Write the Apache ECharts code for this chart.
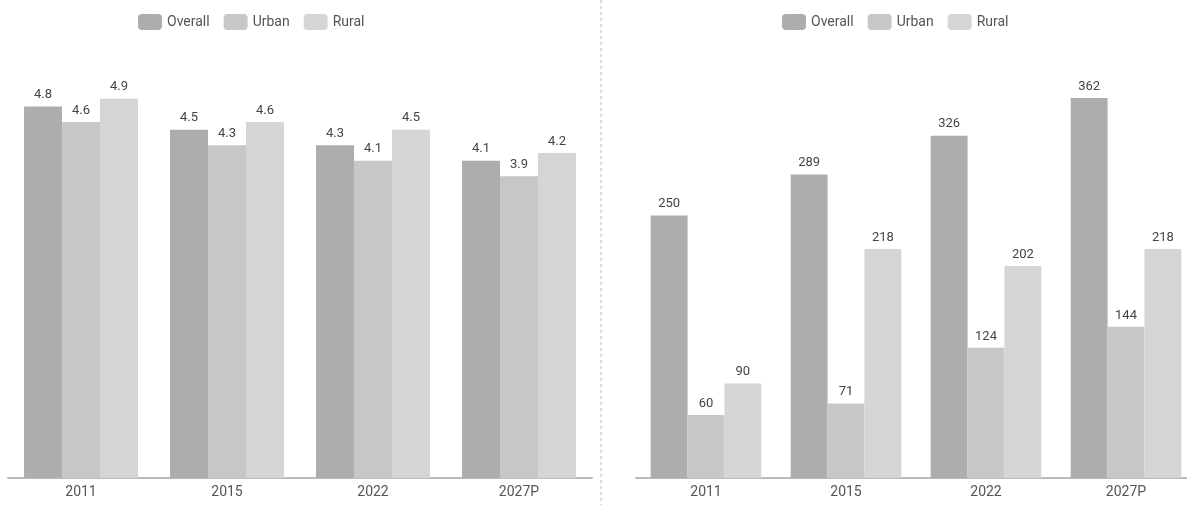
<!DOCTYPE html>
<html>
<head>
<meta charset="utf-8">
<script src="https://cdn.jsdelivr.net/npm/echarts@6/dist/echarts.min.js"></script>
<style>
  html, body { margin: 0; padding: 0; background: #fff; }
  #chart { width: 1187px; height: 505px; }
</style>
</head>
<body>
<div id="chart"></div>
<script>
// Categories shared by both panels
const years = ['2011', '2015', '2022', '2027P'];
const seriesNames = ['Overall', 'Urban', 'Rural'];

// Left panel values
const leftOverall = [4.8, 4.5, 4.3, 4.1];
const leftUrban = [4.6, 4.3, 4.1, 3.9];
const leftRural = [4.9, 4.6, 4.5, 4.2];

// Right panel values
const rightOverall = [250, 289, 326, 362];
const rightUrban = [60, 71, 124, 144];
const rightRural = [90, 218, 202, 218];

const colors = ['#adadad', '#c7c7c7', '#d5d5d5'];
const fontFamily = 'Roboto, "Noto Sans", sans-serif';

const chart = echarts.init(document.getElementById('chart'), null, { renderer: 'canvas' });

function barSeries(name, data, axisIndex, color, gap) {
  return {
    name: name,
    type: 'bar',
    xAxisIndex: axisIndex,
    yAxisIndex: axisIndex,
    data: data,
    barGap: '0%',
    barCategoryGap: gap,
    itemStyle: { color: color },
    label: {
      show: true,
      position: 'top',
      distance: 5,
      color: '#444',
      fontSize: 13,
      fontFamily: fontFamily
    },
    emphasis: { disabled: true }
  };
}

function legend(left) {
  return {
    left: left,
    top: 9,
    itemWidth: 24,
    itemHeight: 16,
    itemGap: 14,
    data: seriesNames,
    textStyle: { color: '#555', fontSize: 14, fontFamily: fontFamily }
  };
}

function xAxis(gridIndex) {
  return {
    type: 'category',
    gridIndex: gridIndex,
    data: years,
    axisTick: { show: false },
    axisLine: { lineStyle: { color: '#bbb', width: 2 } },
    axisLabel: { color: '#555', fontSize: 14, margin: 7, fontFamily: fontFamily }
  };
}

function yAxis(gridIndex, max) {
  return {
    type: 'value',
    gridIndex: gridIndex,
    min: 0,
    max: max,
    show: false,
    splitLine: { show: false }
  };
}

chart.setOption({
  animation: false,
  color: colors,
  legend: [legend(133), legend(777)],
  grid: [
    { left: 8, width: 584, top: 91, bottom: 27, outerBoundsMode: 'none' },
    // right panel runs slightly past the canvas edge
    { left: 636, width: 560, top: 58, bottom: 27, outerBoundsMode: 'none' }
  ],
  xAxis: [xAxis(0), xAxis(1)],
  yAxis: [yAxis(0, 5), yAxis(1, 400)],
  series: [
    barSeries('Overall', leftOverall, 0, colors[0], '22%'),
    barSeries('Urban', leftUrban, 0, colors[1], '22%'),
    barSeries('Rural', leftRural, 0, colors[2], '22%'),
    barSeries('Overall', rightOverall, 1, colors[0], '21%'),
    barSeries('Urban', rightUrban, 1, colors[1], '21%'),
    barSeries('Rural', rightRural, 1, colors[2], '21%')
  ],
  graphic: [
    {
      type: 'line',
      shape: { x1: 601, y1: 0, x2: 601, y2: 505 },
      style: { stroke: '#cfcfcf', lineWidth: 1.5, lineDash: [3, 3] },
      silent: true
    }
  ]
});
</script>
</body>
</html>
